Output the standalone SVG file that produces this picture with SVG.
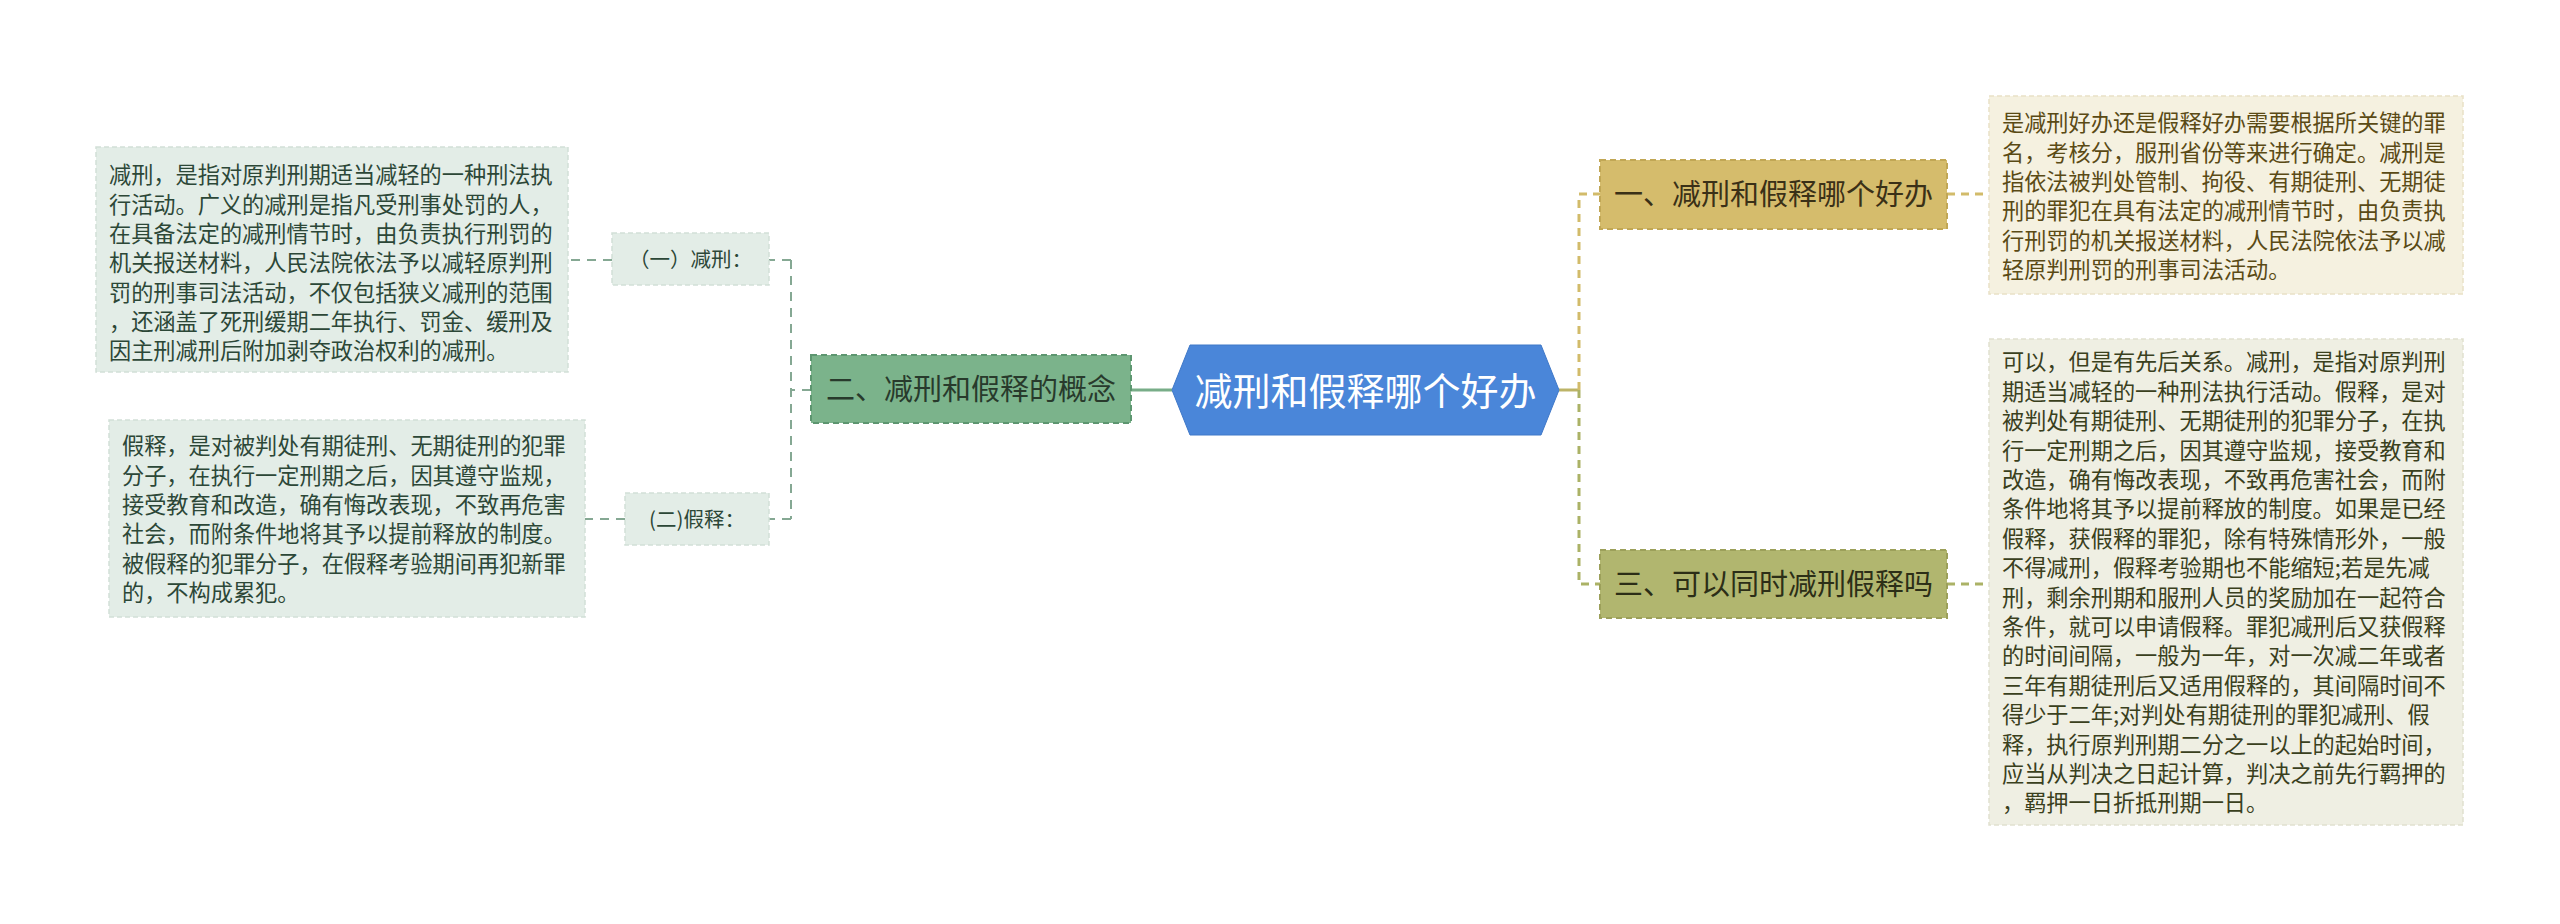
<svg xmlns="http://www.w3.org/2000/svg" width="2560" height="924" viewBox="0 0 2560 924">
<style>
text{font-family:"Noto Sans CJK SC","Noto Sans",sans-serif;}
.t22{font-size:22.2px;}
.lg{fill:#2c4737;}
.gold{fill:#5a4a15;}
.olv{fill:#3a401d;}
.boxL{fill:#e3ede7;stroke:#d2e0d7;stroke-width:1.5;stroke-dasharray:5 3;}
.boxG{fill:#f5f1e0;stroke:#e9e1c6;stroke-width:1.5;stroke-dasharray:5 3;}
.boxO{fill:#efefe3;stroke:#e1e1cf;stroke-width:1.5;stroke-dasharray:5 3;}
.cg{fill:none;stroke:#85a893;stroke-width:2;stroke-dasharray:9 7;}
.cgold{fill:none;stroke:#d2bb6a;stroke-width:3;stroke-dasharray:8 6;}
.colv{fill:none;stroke:#abb266;stroke-width:3;stroke-dasharray:8 6;}
</style>
<rect width="2560" height="924" fill="#ffffff"/>
<g id="connectors">
  <line x1="1131" y1="390" x2="1172" y2="390" stroke="#78ad88" stroke-width="3"/>
  <path class="cg" d="M811 390 H791 M791 260 V519 M791 260 H769 M791 519 H769"/>
  <line class="cg" x1="612" y1="260" x2="568" y2="260"/>
  <line class="cg" x1="625" y1="519" x2="585" y2="519"/>
  <line x1="1559" y1="390" x2="1579" y2="390" stroke="#bdb468" stroke-width="3"/>
  <path class="cgold" d="M1579 390 V194 H1600"/>
  <path class="colv" d="M1579 390 V584 H1600"/>
  <line class="cgold" x1="1947" y1="194" x2="1989" y2="194"/>
  <line class="colv" x1="1947" y1="584" x2="1989" y2="584"/>
</g>
<g id="center">
  <polygon points="1172,390 1190,345 1541,345 1559,390 1541,435 1190,435" fill="#4a86d9" stroke="#3f78c8" stroke-width="1"/>
  <text x="1365.5" y="404.5" font-size="38" fill="#ffffff" text-anchor="middle">减刑和假释哪个好办</text>
</g>
<g id="node-concept">
  <rect x="811" y="355" width="320" height="68" fill="#7bb38b" stroke="#5d9670" stroke-width="2" stroke-dasharray="6 4"/>
  <text x="971" y="400" font-size="29" fill="#283a2c" text-anchor="middle">二、减刑和假释的概念</text>
</g>
<g id="node-jianxing">
  <rect x="612" y="233" width="157" height="52" fill="#e3ede7" stroke="#d2e0d7" stroke-width="1.5" stroke-dasharray="5 3"/>
  <text x="690.5" y="266.5" font-size="20.5" fill="#2c4737" text-anchor="middle">（一）减刑：</text>
</g>
<g id="node-jiashi">
  <rect x="625" y="493" width="144" height="52" fill="#e3ede7" stroke="#d2e0d7" stroke-width="1.5" stroke-dasharray="5 3"/>
  <text x="697" y="526.5" font-size="20.5" fill="#2c4737" text-anchor="middle">(二)假释：</text>
</g>
<g id="text-jianxing">
  <rect class="boxL" x="96" y="147" width="472" height="225"/>
  <text class="t22 lg">
    <tspan x="109" y="183.4">减刑，是指对原判刑期适当减轻的一种刑法执</tspan>
    <tspan x="109" y="212.7">行活动。广义的减刑是指凡受刑事处罚的人，</tspan>
    <tspan x="109" y="242">在具备法定的减刑情节时，由负责执行刑罚的</tspan>
    <tspan x="109" y="271.3">机关报送材料，人民法院依法予以减轻原判刑</tspan>
    <tspan x="109" y="300.6">罚的刑事司法活动，不仅包括狭义减刑的范围</tspan>
    <tspan x="109" y="329.9">，还涵盖了死刑缓期二年执行、罚金、缓刑及</tspan>
    <tspan x="109" y="359.2">因主刑减刑后附加剥夺政治权利的减刑。</tspan>
  </text>
</g>
<g id="text-jiashi">
  <rect class="boxL" x="109" y="420" width="476" height="197"/>
  <text class="t22 lg">
    <tspan x="122" y="454.4">假释，是对被判处有期徒刑、无期徒刑的犯罪</tspan>
    <tspan x="122" y="483.7">分子，在执行一定刑期之后，因其遵守监规，</tspan>
    <tspan x="122" y="513">接受教育和改造，确有悔改表现，不致再危害</tspan>
    <tspan x="122" y="542.3">社会，而附条件地将其予以提前释放的制度。</tspan>
    <tspan x="122" y="571.6">被假释的犯罪分子，在假释考验期间再犯新罪</tspan>
    <tspan x="122" y="600.9">的，不构成累犯。</tspan>
  </text>
</g>
<g id="node-which">
  <rect x="1600" y="160" width="347" height="69" fill="#d5bc6c" stroke="#c1a755" stroke-width="2" stroke-dasharray="6 4"/>
  <text x="1773.5" y="205" font-size="29" fill="#3a3017" text-anchor="middle">一、减刑和假释哪个好办</text>
</g>
<g id="node-both">
  <rect x="1600" y="550" width="347" height="68" fill="#b1b66f" stroke="#9ca05a" stroke-width="2" stroke-dasharray="6 4"/>
  <text x="1773.5" y="595" font-size="29" fill="#2c2e17" text-anchor="middle">三、可以同时减刑假释吗</text>
</g>
<g id="text-which">
  <rect class="boxG" x="1989" y="96" width="474" height="198"/>
  <text class="t22 gold">
    <tspan x="2002" y="131.4">是减刑好办还是假释好办需要根据所关键的罪</tspan>
    <tspan x="2002" y="160.7">名，考核分，服刑省份等来进行确定。减刑是</tspan>
    <tspan x="2002" y="190">指依法被判处管制、拘役、有期徒刑、无期徒</tspan>
    <tspan x="2002" y="219.3">刑的罪犯在具有法定的减刑情节时，由负责执</tspan>
    <tspan x="2002" y="248.6">行刑罚的机关报送材料，人民法院依法予以减</tspan>
    <tspan x="2002" y="277.9">轻原判刑罚的刑事司法活动。</tspan>
  </text>
</g>
<g id="text-both">
  <rect class="boxO" x="1989" y="339" width="474" height="486"/>
  <text class="t22 olv">
    <tspan x="2002" y="370.4">可以，但是有先后关系。减刑，是指对原判刑</tspan>
    <tspan x="2002" y="399.8">期适当减轻的一种刑法执行活动。假释，是对</tspan>
    <tspan x="2002" y="429.2">被判处有期徒刑、无期徒刑的犯罪分子，在执</tspan>
    <tspan x="2002" y="458.6">行一定刑期之后，因其遵守监规，接受教育和</tspan>
    <tspan x="2002" y="488">改造，确有悔改表现，不致再危害社会，而附</tspan>
    <tspan x="2002" y="517.4">条件地将其予以提前释放的制度。如果是已经</tspan>
    <tspan x="2002" y="546.8">假释，获假释的罪犯，除有特殊情形外，一般</tspan>
    <tspan x="2002" y="576.2">不得减刑，假释考验期也不能缩短;若是先减</tspan>
    <tspan x="2002" y="605.6">刑，剩余刑期和服刑人员的奖励加在一起符合</tspan>
    <tspan x="2002" y="635">条件，就可以申请假释。罪犯减刑后又获假释</tspan>
    <tspan x="2002" y="664.4">的时间间隔，一般为一年，对一次减二年或者</tspan>
    <tspan x="2002" y="693.8">三年有期徒刑后又适用假释的，其间隔时间不</tspan>
    <tspan x="2002" y="723.2">得少于二年;对判处有期徒刑的罪犯减刑、假</tspan>
    <tspan x="2002" y="752.6">释，执行原判刑期二分之一以上的起始时间，</tspan>
    <tspan x="2002" y="782">应当从判决之日起计算，判决之前先行羁押的</tspan>
    <tspan x="2002" y="811.4">，羁押一日折抵刑期一日。</tspan>
  </text>
</g>
</svg>
